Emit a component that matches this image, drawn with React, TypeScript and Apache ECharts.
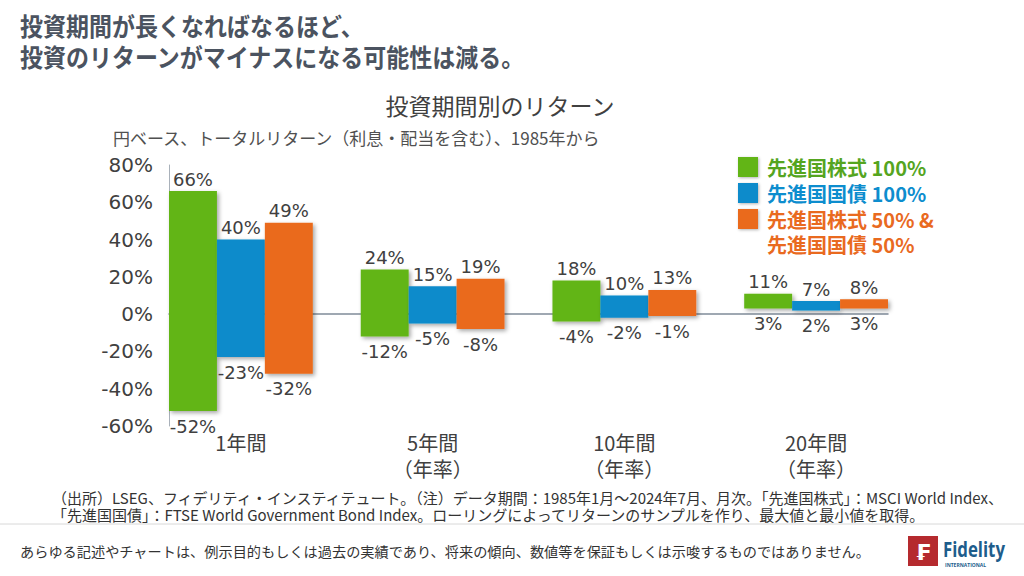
import React, { useEffect, useRef } from "react";
import * as echarts from "echarts";

const categories = ["1年間", "5年間\n（年率）", "10年間\n（年率）", "20年間\n（年率）"];
const seriesNames = ["先進国株式 100%", "先進国国債 100%", "先進国株式 50% & 先進国国債 50%"];
const equityMax = [66, 24, 18, 11];
const equityMin = [-52, -12, -4, 3];
const bondMax = [40, 15, 10, 7];
const bondMin = [-23, -5, -2, 2];
const mixMax = [49, 19, 13, 8];
const mixMin = [-32, -8, -1, 3];
const yTicks = [-60, -40, -20, 0, 20, 40, 60, 80];

const colors = ["#62b517", "#0a8bcb", "#ea6b1d"];
const textColors = ["#55a51f", "#0d8dce", "#e96a1f"];
const CJK = "'Noto Sans CJK JP', sans-serif";
const NUM = "'DejaVu Sans', 'Noto Sans CJK JP', sans-serif";

const groupHalf = 0.375;
const barUnit = 0.25;

function makeSeries(k: number, mins: number[], maxs: number[]) {
  const data = categories.map((_, i) => [i, mins[i], maxs[i]]);
  return {
    type: "custom",
    name: seriesNames[k],
    clip: false,
    itemStyle: { color: colors[k] },
    encode: { x: 0, y: [1, 2] },
    data,
    renderItem: (params: any, api: any) => {
      const i = api.value(0);
      const lo = api.value(1);
      const hi = api.value(2);
      const left = i - groupHalf + k * barUnit;
      const pTop = api.coord([left, hi]);
      const pBot = api.coord([left + barUnit, lo]);
      const x0 = pTop[0];
      const x1 = pBot[0];
      const cx = (x0 + x1) / 2;
      return {
        type: "group",
        children: [
          {
            type: "rect",
            shape: { x: x0, y: pTop[1], width: x1 - x0, height: pBot[1] - pTop[1] },
            style: {
              fill: colors[k],
              shadowBlur: 4,
              shadowColor: "rgba(0,0,0,0.35)",
              shadowOffsetX: 2,
              shadowOffsetY: 2,
            },
          },
          {
            type: "text",
            x: cx,
            y: pTop[1] - 3,
            style: {
              text: hi + "%",
              align: "center",
              verticalAlign: "bottom",
              fontSize: 18,
              fontFamily: NUM,
              fill: "#404040",
            },
          },
          {
            type: "text",
            x: cx,
            y: pBot[1] + 6,
            style: {
              text: lo + "%",
              align: "center",
              verticalAlign: "top",
              fontSize: 18,
              fontFamily: NUM,
              fill: "#404040",
            },
          },
        ],
      };
    },
  };
}

function legendItems() {
  const rows = [
    { k: 0, sq: 157, y: 167, t: "先進国株式 100%" },
    { k: 1, sq: 183, y: 193, t: "先進国国債 100%" },
    { k: 2, sq: 209, y: 219, t: "先進国株式 50% &\n先進国国債 50%" },
  ];
  const out: any[] = [];
  rows.forEach((r) => {
    out.push({
      type: "rect",
      shape: { x: 738, y: r.sq, width: 20, height: 20 },
      style: {
        fill: colors[r.k],
        shadowBlur: 3,
        shadowColor: "rgba(0,0,0,0.3)",
        shadowOffsetX: 1,
        shadowOffsetY: 1,
      },
    });
    out.push({
      type: "text",
      x: 767,
      y: r.y - 12,
      style: {
        text: r.t,
        verticalAlign: "top",
        fontSize: 20,
        lineHeight: 25,
        fontWeight: "bold",
        fontFamily: CJK,
        fill: textColors[r.k],
      },
    });
  });
  return out;
}

export default function App() {
  const ref = useRef<HTMLDivElement>(null);
  useEffect(() => {
    document.body.style.margin = "0";
    const chart = echarts.init(ref.current!, null, { renderer: "svg" });
    const option: any = {
      animation: false,
      backgroundColor: "#ffffff",
      grid: { left: 169, right: 136, top: 165, bottom: 150, containLabel: false, outerBoundsMode: "none" },
      xAxis: [
        {
          type: "value",
          min: -groupHalf,
          max: 3 + groupHalf,
          axisLine: { show: true, onZero: true, lineStyle: { color: "#7f8b99", width: 1.5 } },
          axisTick: { show: false },
          axisLabel: { show: false },
          splitLine: { show: false },
        },
        {
          type: "value",
          min: -groupHalf,
          max: 3 + groupHalf,
          position: "bottom",
          axisLine: { show: false, onZero: false },
          axisTick: { show: false },
          splitLine: { show: false },
          axisLabel: {
            customValues: [0, 1, 2, 3],
            formatter: (v: number) => categories[Math.round(v)],
            fontSize: 20,
            lineHeight: 26,
            color: "#404040",
            fontFamily: CJK,
            margin: 3,
          },
        },
      ],
      yAxis: {
        type: "value",
        min: yTicks[0],
        max: yTicks[yTicks.length - 1],
        interval: 20,
        axisLine: { show: true, onZero: false, lineStyle: { color: "#a9b1ba", width: 1 } },
        axisTick: { show: false },
        splitLine: { show: false },
        axisLabel: {
          formatter: "{value}%",
          fontSize: 20,
          color: "#404040",
          fontFamily: NUM,
          margin: 16,
        },
      },
      series: [
        makeSeries(0, equityMin, equityMax),
        makeSeries(1, bondMin, bondMax),
        makeSeries(2, mixMin, mixMax),
      ],
      graphic: [
        {
          type: "text",
          x: 20,
          y: 10,
          scaleX: 0.92,
          style: {
            text: "投資期間が長くなればなるほど、\n投資のリターンがマイナスになる可能性は減る。",
            verticalAlign: "top",
            fontSize: 25,
            lineHeight: 31,
            fontWeight: "bold",
            fontFamily: CJK,
            fill: "#4b5360",
          },
        },
        {
          type: "text",
          x: 500,
          y: 105,
          style: {
            text: "投資期間別のリターン",
            align: "center",
            verticalAlign: "middle",
            fontSize: 23,
            fontFamily: CJK,
            fill: "#404040",
          },
        },
        {
          type: "text",
          x: 113,
          y: 137,
          style: {
            text: "円ベース、トータルリターン（利息・配当を含む）、1985年から",
            verticalAlign: "middle",
            fontSize: 17,
            fontFamily: CJK,
            fill: "#505050",
          },
        },
        ...legendItems(),
        {
          type: "text",
          x: 52,
          y: 489,
          style: {
            text:
              "（出所）LSEG、フィデリティ・インスティテュート。（注）データ期間：1985年1月～2024年7月、月次。「先進国株式」：MSCI World Index、\n「先進国国債」：FTSE World Government Bond Index。ローリングによってリターンのサンプルを作り、最大値と最小値を取得。",
            verticalAlign: "top",
            fontSize: 15,
            lineHeight: 17,
            fontFamily: CJK,
            fill: "#333333",
          },
        },
        {
          type: "line",
          shape: { x1: 0, y1: 524, x2: 1024, y2: 524 },
          style: { stroke: "#d8d8d8", lineWidth: 1 },
        },
        {
          type: "text",
          x: 20,
          y: 551,
          style: {
            text: "あらゆる記述やチャートは、例示目的もしくは過去の実績であり、将来の傾向、数値等を保証もしくは示唆するものではありません。",
            verticalAlign: "middle",
            fontSize: 14.2,
            fontFamily: CJK,
            fill: "#333333",
          },
        },
        {
          type: "rect",
          shape: { x: 908, y: 536, width: 30, height: 30 },
          style: { fill: "#b52a2e" },
        },
        {
          type: "text",
          x: 923,
          y: 552,
          style: {
            text: "₣",
            align: "center",
            verticalAlign: "middle",
            fontSize: 22,
            fontWeight: "bold",
            fontFamily: "'DejaVu Sans', sans-serif",
            fill: "#ffffff",
          },
        },
        {
          type: "text",
          x: 943,
          y: 549,
          scaleX: 0.8,
          style: {
            text: "Fidelity",
            verticalAlign: "middle",
            fontSize: 21,
            fontWeight: "bold",
            fontFamily: "'Open Sans', sans-serif",
            fill: "#1d5d8c",
          },
        },
        {
          type: "text",
          x: 945,
          y: 565,
          style: {
            text: "INTERNATIONAL",
            verticalAlign: "middle",
            fontSize: 5,
            fontWeight: "bold",
            fontFamily: "'Open Sans', sans-serif",
            fill: "#1d5d8c",
          },
        },
      ],
    };
    chart.setOption(option);
    return () => chart.dispose();
  }, []);
  return (
    <div
      ref={ref}
      style={{ position: "fixed", left: 0, top: 0, width: 1024, height: 576, background: "#fff" }}
    />
  );
}
